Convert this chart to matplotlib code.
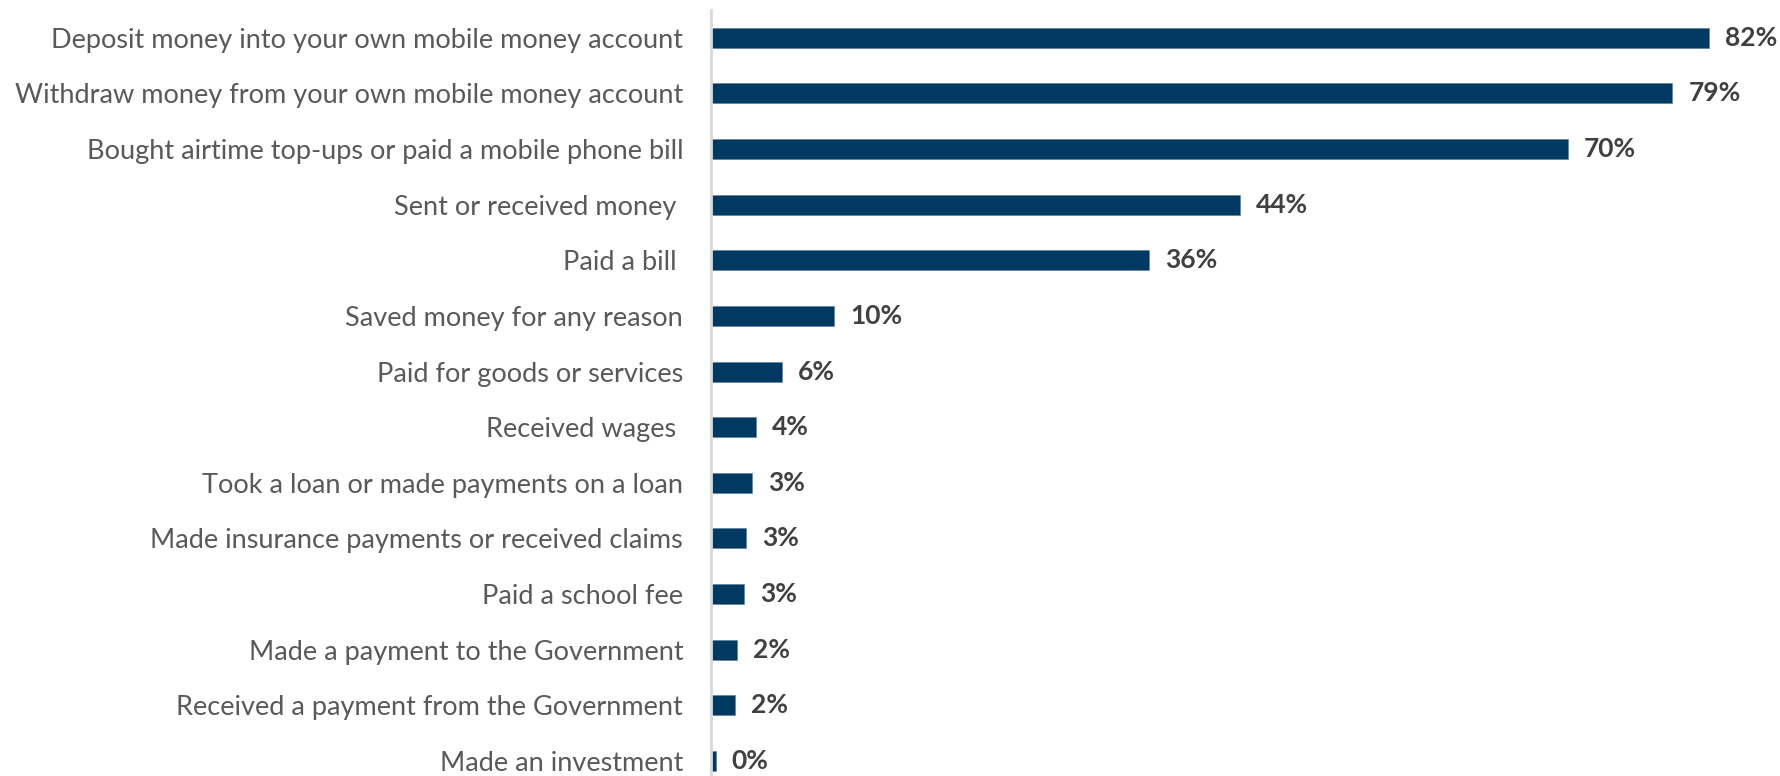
import matplotlib.pyplot as plt

categories = [
    "Deposit money into your own mobile money account",
    "Withdraw money from your own mobile money account",
    "Bought airtime top-ups or paid a mobile phone bill",
    "Sent or received money ",
    "Paid a bill ",
    "Saved money for any reason",
    "Paid for goods or services",
    "Received wages ",
    "Took a loan or made payments on a loan",
    "Made insurance payments or received claims",
    "Paid a school fee",
    "Made a payment to the Government",
    "Received a payment from the Government",
    "Made an investment",
]
shares = [82.0, 79.0, 70.4, 43.5, 36.0, 10.1, 5.8, 3.7, 3.4, 2.9, 2.7, 2.1, 2.0, 0.4]

plt.rcParams['font.family'] = ['Lato', 'DejaVu Sans']

W, H = 1781, 776
fig = plt.figure(figsize=(W / 100, H / 100), dpi=100)
ax = fig.add_axes([711 / W, 0, 1 - 711 / W, 1 - 10 / H])

y = range(len(categories))
ax.barh(y, shares, height=0.36, color='#003a63', edgecolor='#5a7d99', linewidth=0.4)

for yi, v in zip(y, shares):
    ax.annotate(f"{v:.0f}%", (v, yi), xytext=(11.5, 0), textcoords='offset points',
                va='center', ha='left', fontsize=19, fontweight='bold', color='#404040')

ax.set_xlim(0, (W - 711) / 12.17)
ax.set_ylim(13.27, -0.5)
ax.set_yticks(list(y))
ax.set_yticklabels(categories, fontsize=19.5, color='#595959')
ax.tick_params(axis='y', length=0, pad=20)
ax.set_xticks([])
for s in ['top', 'right', 'bottom']:
    ax.spines[s].set_visible(False)
ax.spines['left'].set_color('#d9d9d9')
ax.spines['left'].set_linewidth(2)

fig.savefig('out.png', dpi=100)
